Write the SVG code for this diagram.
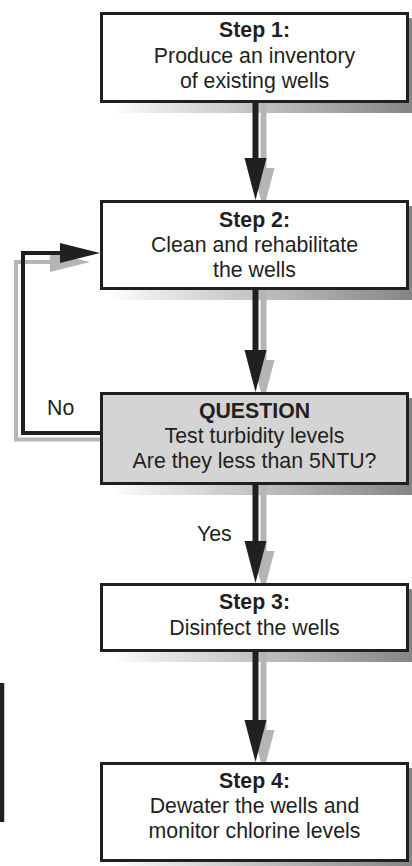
<svg xmlns="http://www.w3.org/2000/svg" width="412" height="866" viewBox="0 0 412 866">
<defs>
<linearGradient id="sh" x1="0" y1="0" x2="1" y2="0">
<stop offset="0" stop-color="#ffffff"/>
<stop offset="0.12" stop-color="#ececec"/>
<stop offset="1" stop-color="#858585"/>
</linearGradient>
</defs>
<style>
.box{fill:#ffffff;stroke:#231f20;stroke-width:3}
.q{fill:#d4d4d4}
.shadow{fill:url(#sh)}
.t{font-family:"Liberation Sans",Arial,sans-serif;font-size:21.3px;fill:#231f20;text-anchor:middle}
.b{font-weight:bold}
.lbl{font-family:"Liberation Sans",Arial,sans-serif;font-size:21.3px;fill:#231f20}
.blk{stroke:#231f20;fill:none}
.gry{stroke:#b5b5b5;fill:none}
.hb{fill:#231f20}
.hg{fill:#b5b5b5}
</style>
<g id="shadows">
<rect class="shadow" x="112" y="18" width="301" height="95"/>
<rect class="shadow" x="112" y="206" width="301" height="94"/>
<rect class="shadow" x="112" y="398" width="301" height="97"/>
<rect class="shadow" x="112" y="589" width="301" height="73"/>
<rect class="shadow" x="112" y="768" width="301" height="104"/>
</g>
<g id="connectors">
<!-- shadow arrows -->
<path class="gry" stroke-width="6" d="M263.5 103 V170 M263.5 290 V362 M263.5 485 V553 M263.5 652 V732"/>
<polygon class="hg" points="252.5,168 274.5,168 263.5,210"/>
<polygon class="hg" points="252.5,360 274.5,360 263.5,402"/>
<polygon class="hg" points="252.5,551 274.5,551 263.5,593"/>
<polygon class="hg" points="252.5,730 274.5,730 263.5,772"/>
<path class="gry" stroke-width="4" d="M100 439.5 H16 V262 H54"/>
<polygon class="hg" points="50,252 90,262 50,272"/>
<!-- black arrows -->
<path class="blk" stroke-width="6" d="M255.5 103 V160 M255.5 290 V352 M255.5 485 V543 M255.5 652 V722"/>
<polygon class="hb" points="244.5,158 266.5,158 255.5,200"/>
<polygon class="hb" points="244.5,350 266.5,350 255.5,392"/>
<polygon class="hb" points="244.5,541 266.5,541 255.5,583"/>
<polygon class="hb" points="244.5,720 266.5,720 255.5,762"/>
<path class="blk" stroke-width="4" d="M100 433 H23 V253 H62"/>
<polygon class="hb" points="60,243 100,253 60,263"/>
<text class="lbl" x="47" y="415">No</text>
<text class="lbl" x="197" y="541">Yes</text>
</g>
<g id="step1">
<rect class="box" x="101.5" y="13.5" width="306" height="88"/>
<text class="t b" x="254.5" y="37">Step 1:</text>
<text class="t" x="254.5" y="63">Produce an inventory</text>
<text class="t" x="254.5" y="88">of existing wells</text>
</g>
<g id="step2">
<rect class="box" x="101.5" y="201.5" width="306" height="87"/>
<text class="t b" x="254.5" y="227">Step 2:</text>
<text class="t" x="254.5" y="252">Clean and rehabilitate</text>
<text class="t" x="254.5" y="277">the wells</text>
</g>
<g id="question">
<rect class="box q" x="101.5" y="393.5" width="306" height="90"/>
<text class="t b" x="254.5" y="418">QUESTION</text>
<text class="t" x="254.5" y="443">Test turbidity levels</text>
<text class="t" x="254.5" y="468">Are they less than 5NTU?</text>
</g>
<g id="step3">
<rect class="box" x="101.5" y="584.5" width="306" height="66"/>
<text class="t b" x="254.5" y="609">Step 3:</text>
<text class="t" x="254.5" y="635">Disinfect the wells</text>
</g>
<g id="step4">
<rect class="box" x="101.5" y="763.5" width="306" height="97"/>
<text class="t b" x="254.5" y="788">Step 4:</text>
<text class="t" x="254.5" y="813">Dewater the wells and</text>
<text class="t" x="254.5" y="838">monitor chlorine levels</text>
</g>
<g id="edgebar">
<rect x="0" y="683" width="4" height="139" fill="#231f20"/>
<rect x="4" y="683" width="0.8" height="139" fill="#bdbdbd"/>
</g>
</svg>
